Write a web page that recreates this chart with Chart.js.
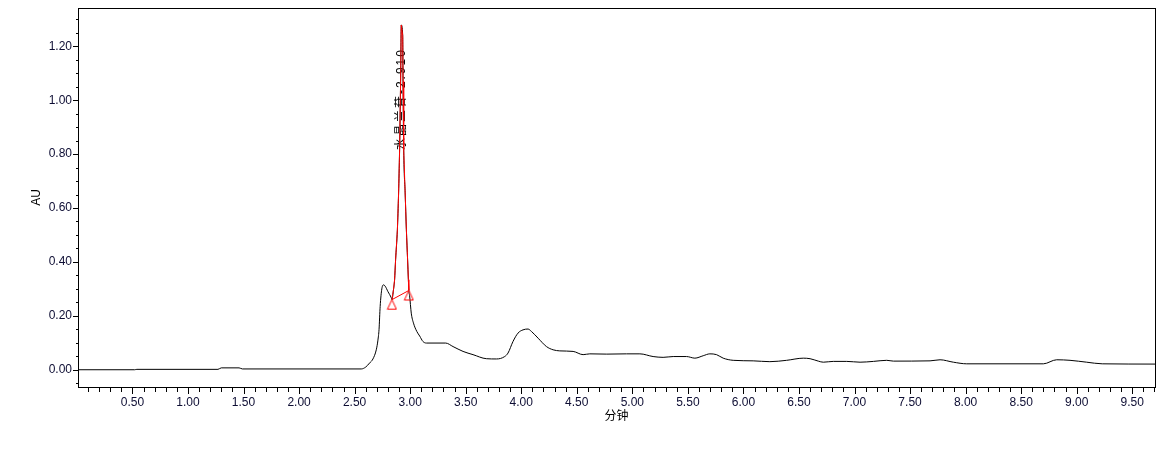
<!DOCTYPE html>
<html>
<head>
<meta charset="utf-8">
<script src="https://cdn.jsdelivr.net/npm/chart.js@4.4.1/dist/chart.umd.min.js"></script>
<style>
html,body{margin:0;padding:0;background:#fff;}
#wrap{width:1167px;height:454px;position:relative;}
</style>
</head>
<body>
<div id="wrap"><canvas id="c"></canvas></div>
<script>
// ---- data ----
const traceTime = [0.00, 0.52, 0.54, 1.27, 1.30, 1.46, 1.49, 2.56, 2.60, 2.635, 2.665, 2.695, 2.71, 2.72, 2.73, 2.745, 2.76, 2.775, 2.80, 2.83, 2.836,
  2.85, 2.86, 2.869, 2.885, 2.896, 2.905, 2.914, 2.92, 2.933, 2.936, 2.942, 2.955, 2.966, 2.977, 2.984, 2.988,
  2.995, 3.01, 3.03, 3.06, 3.086, 3.115, 3.146, 3.32, 3.386, 3.476, 3.566, 3.686, 3.777, 3.851, 3.881, 3.926, 3.971, 4.016, 4.061, 4.092,
  4.152, 4.227, 4.287, 4.347, 4.467, 4.557, 4.617, 4.77, 4.947, 5.068, 5.187, 5.277, 5.368, 5.488, 5.563, 5.638, 5.698, 5.758, 5.818,
  5.908, 6.088, 6.238, 6.389, 6.539, 6.6, 6.674, 6.719, 6.809, 6.93, 7.05, 7.17, 7.29, 7.35, 7.68, 7.77, 7.89, 8.01, 8.70, 8.82, 8.94,
  9.09, 9.23, 9.71];
const traceAU = [0.000, 0.000, 0.0015, 0.0015, 0.007, 0.007, 0.003, 0.003, 0.010, 0.025, 0.040, 0.074, 0.110, 0.150, 0.235, 0.300, 0.315, 0.310, 0.290, 0.267, 0.260,
  0.297, 0.334, 0.408, 0.519, 0.656, 0.816, 1.070, 1.279, 1.240, 1.070, 0.816, 0.656, 0.519, 0.408, 0.334, 0.294,
  0.275, 0.210, 0.173, 0.142, 0.125, 0.105, 0.099, 0.099, 0.086, 0.068, 0.056, 0.041, 0.040, 0.049, 0.062, 0.105, 0.136, 0.148, 0.151, 0.142,
  0.117, 0.086, 0.074, 0.070, 0.068, 0.056, 0.059, 0.058, 0.059, 0.059, 0.049, 0.046, 0.049, 0.049, 0.043, 0.052, 0.059, 0.056, 0.043,
  0.035, 0.033, 0.030, 0.035, 0.043, 0.041, 0.032, 0.028, 0.031, 0.031, 0.028, 0.031, 0.035, 0.032, 0.033, 0.037, 0.028, 0.022, 0.022, 0.037, 0.035,
  0.028, 0.022, 0.021];

const peakTime = [2.836, 2.85, 2.86, 2.869, 2.885, 2.896, 2.905, 2.914, 2.92, 2.933, 2.936, 2.942, 2.955, 2.966, 2.977, 2.984, 2.988];
const peakAU   = [0.260, 0.297, 0.334, 0.408, 0.519, 0.656, 0.816, 1.070, 1.279, 1.240, 1.070, 0.816, 0.656, 0.519, 0.408, 0.334, 0.294];

const baselineTime = [2.836, 2.988];
const baselineAU   = [0.260, 0.294];

const peakLabel = '水晶兰苷-2.910';
const peakLabelTime = 2.92;
const peakLabelAU = 0.815;

const xMajorTicks = [0.5, 1.0, 1.5, 2.0, 2.5, 3.0, 3.5, 4.0, 4.5, 5.0, 5.5, 6.0, 6.5, 7.0, 7.5, 8.0, 8.5, 9.0, 9.5];
const xTickLabels = ['0.50','1.00','1.50','2.00','2.50','3.00','3.50','4.00','4.50','5.00','5.50','6.00','6.50','7.00','7.50','8.00','8.50','9.00','9.50'];
const yMajorTicks = [0.0, 0.2, 0.4, 0.6, 0.8, 1.0, 1.2];
const yTickLabels = ['0.00','0.20','0.40','0.60','0.80','1.00','1.20'];
const xMinorStep = 0.1;
const yMinorStep = 0.05;
const xRange = [0.01, 9.705];
const yRange = [-0.064, 1.342];
const xTitle = '分钟';
const yTitle = 'AU';

// ---- helpers ----
const pts = (xs, ys) => xs.map((x, i) => ({x: x, y: ys[i]}));
const majorIndex = (list, v) => list.findIndex(m => Math.abs(m - v) < 1e-6);
function stepTicks(step, lo, hi) {
  const out = [];
  const i0 = Math.ceil(lo / step - 1e-9), i1 = Math.floor(hi / step + 1e-9);
  for (let i = i0; i <= i1; i++) out.push({value: +(i * step).toFixed(4)});
  return out;
}
function triangleMarker() {
  const c = document.createElement('canvas');
  c.width = 11; c.height = 22;
  const g = c.getContext('2d');
  g.strokeStyle = '#ff0000'; g.lineWidth = 1;
  g.beginPath(); g.moveTo(5.5, 11); g.lineTo(10, 20.5); g.lineTo(1, 20.5); g.closePath(); g.stroke();
  return c;
}

const FONT = '"Liberation Sans", Arial, "Noto Sans CJK SC", sans-serif';
Chart.defaults.font.family = FONT;
Chart.defaults.font.size = 12;
Chart.defaults.color = '#000';

const frameTicks = {
  id: 'frameTicks',
  afterDraw(chart) {
    const {ctx, chartArea: a, scales: {x, y}} = chart;
    ctx.save();
    ctx.strokeStyle = '#000'; ctx.lineWidth = 1;
    ctx.strokeRect(a.left + 0.5, a.top + 0.5, a.right - a.left, a.bottom - a.top);
    ctx.beginPath();
    y.ticks.forEach(t => {
      const py = Math.round(y.getPixelForValue(t.value)) + 0.5;
      const len = majorIndex(yMajorTicks, t.value) >= 0 ? 5 : 2;
      ctx.moveTo(a.left - len, py); ctx.lineTo(a.left, py);
    });
    x.ticks.forEach(t => {
      const px = Math.round(x.getPixelForValue(t.value)) + 0.5;
      const len = majorIndex(xMajorTicks, t.value) >= 0 ? 6 : 4;
      ctx.moveTo(px, a.bottom + 1); ctx.lineTo(px, a.bottom + 1 + len);
    });
    ctx.stroke();
    ctx.restore();
  }
};
const peakText = {
  id: 'peakText',
  beforeDatasetsDraw(chart) {
    const {ctx, scales: {x, y}} = chart;
    ctx.save();
    ctx.translate(x.getPixelForValue(peakLabelTime), y.getPixelForValue(peakLabelAU));
    ctx.rotate(-Math.PI / 2);
    ctx.font = '12px ' + FONT;
    ctx.fillStyle = '#000';
    ctx.textAlign = 'left';
    ctx.textBaseline = 'middle';
    try { ctx.letterSpacing = '2px'; } catch (e) {}
    ctx.fillText(peakLabel, 0, 0);
    ctx.restore();
  }
};

new Chart(document.getElementById('c'), {
  type: 'scatter',
  data: {
    datasets: [
      {data: pts(baselineTime, baselineAU), showLine: false, pointStyle: triangleMarker(), pointRadius: 6, order: 0},
      {data: pts(peakTime, peakAU), showLine: true, borderColor: '#ff0000', borderWidth: 1, pointRadius: 0, tension: 0, order: 1},
      {data: pts(baselineTime, baselineAU), showLine: true, borderColor: '#ff0000', borderWidth: 1, pointRadius: 0, tension: 0, order: 1},
      {data: pts(traceTime, traceAU), showLine: true, borderColor: '#000', borderWidth: 1, pointRadius: 0, cubicInterpolationMode: 'monotone', order: 3}
    ]
  },
  options: {
    responsive: true,
    maintainAspectRatio: false,
    animation: false,
    events: [],
    layout: {padding: {left: 29, top: 8, right: 12, bottom: 30}},
    plugins: {legend: {display: false}, tooltip: {enabled: false}},
    scales: {
      x: {
        type: 'linear', min: xRange[0], max: xRange[1],
        grid: {display: false, drawTicks: false},
        border: {display: false},
        afterBuildTicks: s => { s.ticks = stepTicks(xMinorStep, xRange[0], xRange[1]); },
        afterFit: s => { s.height = 37; s.paddingLeft = 0; s.paddingRight = 0; s.paddingTop = 0; s.paddingBottom = 0; },
        ticks: {
          autoSkip: false, maxRotation: 0, minRotation: 0, padding: 8, color: '#0d0d33',
          callback: v => { const i = majorIndex(xMajorTicks, v); return i >= 0 ? xTickLabels[i] : ''; }
        },
        title: {display: true, text: xTitle, padding: 0, color: '#000', font: {size: 12}}
      },
      y: {
        type: 'linear', min: yRange[0], max: yRange[1],
        grid: {display: false, drawTicks: false},
        border: {display: false},
        afterBuildTicks: s => { s.ticks = stepTicks(yMinorStep, yRange[0], yRange[1]); },
        afterFit: s => { s.width = 49; s.paddingLeft = 0; s.paddingRight = 0; s.paddingTop = 0; s.paddingBottom = 0; },
        ticks: {
          autoSkip: false, padding: 6, color: '#0d0d33',
          callback: v => { const i = majorIndex(yMajorTicks, v); return i >= 0 ? yTickLabels[i] : ''; }
        },
        title: {display: true, text: yTitle, padding: 0, color: '#000', font: {size: 12}}
      }
    }
  },
  plugins: [peakText, frameTicks]
});
</script>
</body>
</html>
